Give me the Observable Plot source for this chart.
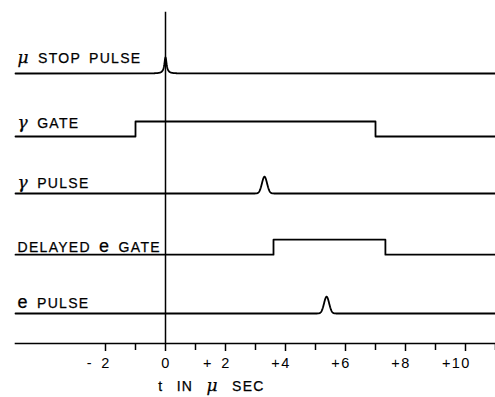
<!DOCTYPE html>
<html>
<head>
<meta charset="utf-8">
<script src="https://cdn.jsdelivr.net/npm/d3@7"></script>
<script src="https://cdn.jsdelivr.net/npm/@observablehq/plot@0.6"></script>
<style>
  html, body { margin: 0; padding: 0; background: #fff; }
</style>
</head>
<body>
<div id="chart"></div>
<script>
// ---------- data ----------
const signalNames = ["μ STOP PULSE", "γ GATE", "γ PULSE", "DELAYED e GATE", "e PULSE"];
const pulseSignals = ["μ STOP PULSE", "γ PULSE", "e PULSE"];
const pulseTimes = [0, 3.3, 5.37];            // µs
const gateSignals = ["γ GATE", "DELAYED e GATE"];
const gateOpen = [-1, 3.6];                   // µs
const gateClose = [7, 7.33];                  // µs
const timeSpan = [-5, 11];                    // µs
const majorTicks = [-2, 0, 2, 4, 6, 8, 10];
const tickLabels = ["- 2", "0", "+ 2", "+4", "+6", "+8", "+10"];
const minorTicks = [-1, 1, 3, 5, 7, 9, 11];
const axisTitle = "t IN μ SEC";

// ---------- layout (lane positions, in lane units) ----------
const laneY = {"μ STOP PULSE": 0, "γ GATE": 1.05, "γ PULSE": 2, "DELAYED e GATE": 3.02, "e PULSE": 4};
const laneAmp = {"μ STOP PULSE": 0.27, "γ GATE": 0.25, "γ PULSE": 0.28, "DELAYED e GATE": 0.25, "e PULSE": 0.28};
const labelLift = {"μ STOP PULSE": 0.18, "γ GATE": 0.15, "γ PULSE": 0.1, "DELAYED e GATE": 0.05, "e PULSE": 0.09};

// pulse glyph shapes (drawing shape only)
function pulseGlyph(name, t0) {
  const pts = [];
  for (let dt = -0.45; dt <= 0.4501; dt += 0.01) {
    const v = name === "μ STOP PULSE"
      ? 1 / (1 + Math.pow(dt / 0.045, 2))
      : Math.exp(-0.5 * Math.pow(dt / 0.085, 2));
    pts.push({name, t: t0 + dt, level: v});
  }
  return pts;
}

const traces = [];
pulseSignals.forEach((name, i) => {
  traces.push({name, t: timeSpan[0], level: 0});
  traces.push(...pulseGlyph(name, pulseTimes[i]));
  traces.push({name, t: timeSpan[1], level: 0});
});
gateSignals.forEach((name, i) => {
  traces.push(
    {name, t: timeSpan[0], level: 0},
    {name, t: gateOpen[i], level: 0},
    {name, t: gateOpen[i], level: 1},
    {name, t: gateClose[i], level: 1},
    {name, t: gateClose[i], level: 0},
    {name, t: timeSpan[1], level: 0}
  );
});

const labels = signalNames.map(name => ({name}));

const font = "'Liberation Sans', Arial, sans-serif";

const chart = Plot.plot({
  width: 495,
  height: 397,
  marginLeft: 15,
  marginRight: 0,
  marginTop: 0,
  marginBottom: 54,
  style: {background: "#fff", color: "#000", fontFamily: font, letterSpacing: "1.3px", wordSpacing: "3px"},
  x: {domain: timeSpan, label: null, axis: null},
  y: {domain: [0, 4], range: [73, 313], axis: null, label: null},
  marks: [
    // time-zero reference line
    Plot.ruleX([0], {y1: -1.02, y2: 4.5, stroke: "#000", strokeWidth: 1.5}),
    // time axis line
    Plot.frame({anchor: "bottom", stroke: "#000", strokeWidth: 1.6}),
    Plot.axisX({ticks: majorTicks, tickFormat: () => "", tickSize: 8, strokeWidth: 1.5, label: null}),
    Plot.axisX({ticks: minorTicks, tickFormat: () => "", tickSize: 7, strokeWidth: 1.5, label: null}),
    Plot.axisX({ticks: majorTicks, tickFormat: (d, i) => tickLabels[i], tickSize: 0, tickPadding: 14,
                textAnchor: "end", dx: 5, fontSize: 14.5, fill: "#000", stroke: "#000", strokeWidth: 0.25,
                label: null}),
    // traces
    Plot.line(traces, {x: "t", y: d => laneY[d.name] - d.level * laneAmp[d.name], z: "name",
                       stroke: "#000", strokeWidth: 1.8, curve: "linear"}),
    // trace labels
    Plot.text(labels, {x: () => timeSpan[0], y: d => laneY[d.name] - labelLift[d.name], text: "name",
                       textAnchor: "start", lineAnchor: "bottom", dx: 2, fontSize: 14, fill: "#000",
                       stroke: "#000", strokeWidth: 0.25}),
    // axis title
    Plot.text([axisTitle], {frameAnchor: "bottom", dx: -44, dy: 47, lineAnchor: "bottom",
                            fontSize: 14, fill: "#000", stroke: "#000", strokeWidth: 0.25})
  ]
});

// italic Greek letters and large lowercase e, as in the hand lettering
d3.select(chart).selectAll("text").each(function () {
  const el = d3.select(this);
  const s = this.textContent;
  if (s === axisTitle) el.style("word-spacing", "8px");
  if (!/[μγe]/.test(s)) return;
  el.text(null);
  for (const part of s.split(/([μγe])/)) {
    if (!part) continue;
    const ts = el.append("tspan").text(part);
    if (part === "μ" || part === "γ") {
      ts.attr("font-style", "italic").attr("font-family", "'DejaVu Serif', serif").attr("font-size", 17);
    } else if (part === "e") {
      ts.attr("font-size", 18);
    }
  }
});

document.getElementById("chart").append(chart);
</script>
</body>
</html>
